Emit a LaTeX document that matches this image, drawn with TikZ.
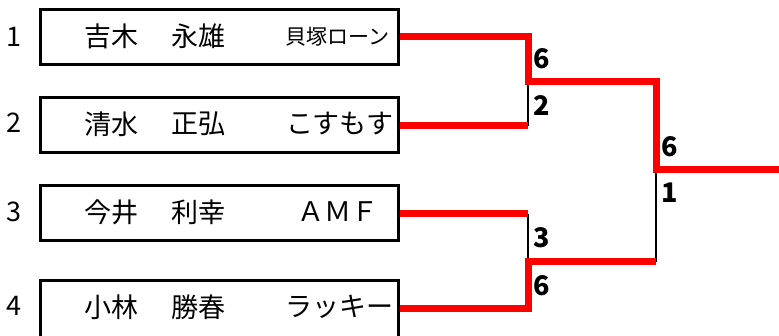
\documentclass[tikz,border=0pt]{standalone}
\usepackage{fontspec}
\setmainfont{Noto Sans CJK JP}
\begin{document}
\begin{tikzpicture}[x=1pt,y=-1pt,
  box/.style={draw=black,line width=3pt,minimum width=358pt,minimum height=55pt,inner sep=0pt},
  win/.style={draw=red,line width=7pt,line join=miter},
  lose/.style={draw=black,line width=2pt},
  score/.style={font=\fontsize{27}{30}\selectfont\bfseries,anchor=west,inner sep=0pt},
  seed/.style={font=\fontsize{27}{30}\selectfont,inner sep=0pt},
  nm/.style={font=\fontsize{27}{30}\selectfont,inner sep=0pt},
  team/.style={font=\fontsize{27}{30}\selectfont,inner sep=0pt}]
\useasboundingbox (0,0) rectangle (779,336);
% boxes
\node[box] (b1) at (219.5,37) {};
\node[box] (b2) at (219.5,125.5) {};
\node[box] (b3) at (219.5,213.5) {};
\node[box,minimum height=60pt] (b4) at (219.5,311) {};
% seeds
\node[seed] (s1) at (14,37) {1};
\node[seed] (s2) at (14,122.5) {2};
\node[seed] (s3) at (14,212) {3};
\node[seed] (s4) at (14,306) {4};
% names
\node[nm,anchor=west] (n1a) at (84,36) {吉木};
\node[nm,anchor=west] (n1b) at (171,36) {永雄};
\node[team,anchor=east,font=\fontsize{21}{24}\selectfont] (t1) at (390,37) {貝塚ローン};
\node[nm,anchor=west] (n2a) at (84,124) {清水};
\node[nm,anchor=west] (n2b) at (171,124) {正弘};
\node[team,anchor=east] (t2) at (394,124) {こすもす};
\node[nm,anchor=west] (n3a) at (84,212) {今井};
\node[nm,anchor=west] (n3b) at (171,212) {利幸};
\node[team,anchor=west] (t3) at (297,212) {ＡＭＦ};
\node[nm,anchor=west] (n4a) at (84,307) {小林};
\node[nm,anchor=west] (n4b) at (171,307) {勝春};
\node[team,anchor=east] (t4) at (394,307) {ラッキー};
% bracket coordinates
\coordinate (j1) at (528,37);
\coordinate (m1) at (528,82);
\coordinate (j2) at (528,126);
\coordinate (j3) at (528,214);
\coordinate (m2) at (528,262);
\coordinate (j4) at (528,309);
\coordinate (f1) at (656,82);
\coordinate (f0) at (656,170);
\coordinate (f2) at (656,262);
\coordinate (out) at (779,170);
% losing lines
\draw[lose] (m1) -- (j2);
\draw[lose] (j3) -- (m2);
\draw[lose] (f0) -- (f2);
% winning lines
\draw[win] (b1.east) -- (j1) -- (m1) -- (f1) -- (f0) -- (out);
\draw[win] (b2.east |- j2) -- (j2);
\draw[win] (b3.east |- j3) -- (j3);
\draw[win] (b4.east |- j4) -- (j4) -- (m2) -- (f2);
% scores
\node[score] (c1) at (533,59) {6};
\node[score] (c2) at (533,105.5) {2};
\node[score] (c3) at (533,238) {3};
\node[score] (c4) at (533,286) {6};
\node[score] (c5) at (661,147) {6};
\node[score] (c6) at (661,192.5) {1};
\end{tikzpicture}
\end{document}
